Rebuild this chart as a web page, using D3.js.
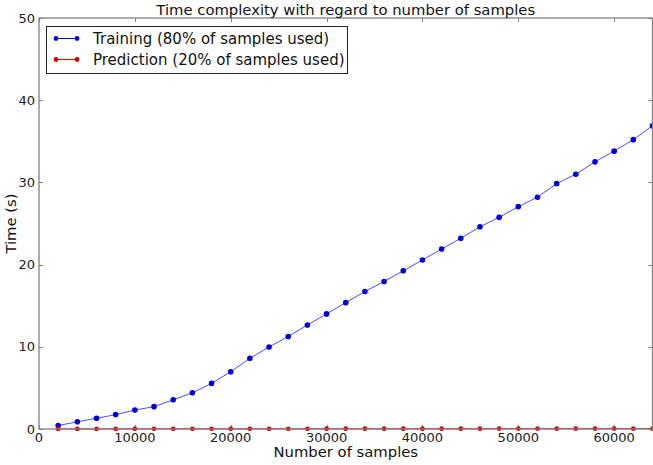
<!DOCTYPE html>
<html>
<head>
<meta charset="utf-8">
<script src="https://cdn.jsdelivr.net/npm/d3@7"></script>
<style>
  html, body { margin: 0; padding: 0; background: #fff; }
  svg { display: block; font-family: "DejaVu Sans", sans-serif; }
</style>
</head>
<body>
<svg id="chart" width="653" height="465"></svg>
<script>
// Sample counts (x) and measured times in seconds
const samples = [2000, 4000, 6000, 8000, 10000, 12000, 14000, 16000, 18000, 20000,
  22000, 24000, 26000, 28000, 30000, 32000, 34000, 36000, 38000, 40000,
  42000, 44000, 46000, 48000, 50000, 52000, 54000, 56000, 58000, 60000,
  62000, 64000];
const trainingTime = [0.42, 0.88, 1.3, 1.75, 2.3, 2.72, 3.55, 4.4, 5.55, 6.97,
  8.6, 9.98, 11.25, 12.65, 14.0, 15.37, 16.72, 17.95, 19.25, 20.56,
  21.9, 23.2, 24.6, 25.75, 27.05, 28.2, 29.85, 31.0, 32.5, 33.8,
  35.2, 36.9];
const predictionTime = [0.01, 0.01, 0.01, 0.01, 0.02, 0.02, 0.02, 0.02, 0.02, 0.02,
  0.02, 0.02, 0.02, 0.02, 0.03, 0.03, 0.03, 0.03, 0.03, 0.03,
  0.03, 0.03, 0.03, 0.04, 0.04, 0.04, 0.04, 0.04, 0.04, 0.04,
  0.04, 0.05];
const xTicks = [0, 10000, 20000, 30000, 40000, 50000, 60000];
const yTicks = [0, 10, 20, 30, 40, 50];
const seriesNames = ["Training (80% of samples used)", "Prediction (20% of samples used)"];
const seriesColors = ["#0000ff", "#ff0000"];

const svg = d3.select("#chart");
const margin = { left: 39, right: 0.5, top: 18, bottom: 36 };
const W = 653, H = 465;
const x = d3.scaleLinear().domain([0, 64000]).range([margin.left, W - margin.right]);
const y = d3.scaleLinear().domain([0, 50]).range([H - margin.bottom, margin.top]);

const spine = "#808080";
const tickLen = 4;

// Inward ticks on all four sides
const g = svg.append("g");
xTicks.forEach(t => {
  const px = Math.round(x(t)) + 0.5;
  g.append("line").attr("x1", px).attr("x2", px).attr("y1", y(0)).attr("y2", y(0) - tickLen).attr("stroke", spine);
  g.append("line").attr("x1", px).attr("x2", px).attr("y1", y(50)).attr("y2", y(50) + tickLen).attr("stroke", spine);
});
yTicks.forEach(t => {
  const py = Math.round(y(t)) + 0.5;
  g.append("line").attr("x1", x(0)).attr("x2", x(0) + tickLen).attr("y1", py).attr("y2", py).attr("stroke", spine);
  g.append("line").attr("x1", x(64000)).attr("x2", x(64000) - tickLen).attr("y1", py).attr("y2", py).attr("stroke", spine);
});

// Tick labels
svg.append("g").selectAll("text").data(xTicks).join("text")
  .attr("x", d => x(d)).attr("y", y(0) + 12.5)
  .attr("text-anchor", "middle").attr("font-size", 13).attr("fill", "#222")
  .text(d => d);
svg.append("g").selectAll("text").data(yTicks).join("text")
  .attr("x", x(0) - 4).attr("y", d => y(d) + 4.5)
  .attr("text-anchor", "end").attr("font-size", 13).attr("fill", "#222")
  .text(d => d);

// Series
const line = d3.line().x((d, i) => x(samples[i])).y(d => y(d));
[trainingTime, predictionTime].forEach((vals, k) => {
  svg.append("path").datum(vals).attr("d", line)
    .attr("fill", "none").attr("stroke", seriesColors[k]).attr("stroke-width", 1)
    .attr("stroke-opacity", k === 0 ? 0.7 : 1);
  svg.append("g").selectAll("circle").data(vals).join("circle")
    .attr("cx", (d, i) => x(samples[i])).attr("cy", d => y(d))
    .attr("r", k === 0 ? 2.8 : 2.4)
    .attr("fill", k === 0 ? "#0000d8" : "#d80000");
});

// Frame
svg.append("rect")
  .attr("x", x(0)).attr("y", y(50))
  .attr("width", x(64000) - x(0)).attr("height", y(0) - y(50))
  .attr("fill", "none").attr("stroke", spine).attr("stroke-width", 1.3);

// Legend
const lg = svg.append("g");
lg.append("rect").attr("x", 46.5).attr("y", 26.5).attr("width", 301).attr("height", 47)
  .attr("fill", "#fff").attr("stroke", "#222").attr("stroke-width", 1);
seriesNames.forEach((name, k) => {
  const yy = 38.5 + k * 21;
  lg.append("line").attr("x1", 56).attr("x2", 77).attr("y1", yy).attr("y2", yy)
    .attr("stroke", seriesColors[k]).attr("stroke-width", 1);
  [56, 77].forEach(cx => lg.append("circle").attr("cx", cx).attr("cy", yy).attr("r", 2.4)
    .attr("fill", k === 0 ? "#0000d8" : "#d80000"));
  lg.append("text").attr("x", 93).attr("y", yy + 5.5).attr("font-size", 15).attr("fill", "#111").text(name);
});

// Titles
svg.append("text").attr("x", (x(0) + x(64000)) / 2).attr("y", 15)
  .attr("text-anchor", "middle").attr("font-size", 14.8).attr("fill", "#111")
  .text("Time complexity with regard to number of samples");
svg.append("text").attr("x", (x(0) + x(64000)) / 2).attr("y", 457)
  .attr("text-anchor", "middle").attr("font-size", 14.8).attr("fill", "#111")
  .text("Number of samples");
svg.append("text").attr("transform", `translate(16,${(y(0) + y(50)) / 2}) rotate(-90)`)
  .attr("text-anchor", "middle").attr("font-size", 14.8).attr("fill", "#111")
  .text("Time (s)");
</script>
</body>
</html>
